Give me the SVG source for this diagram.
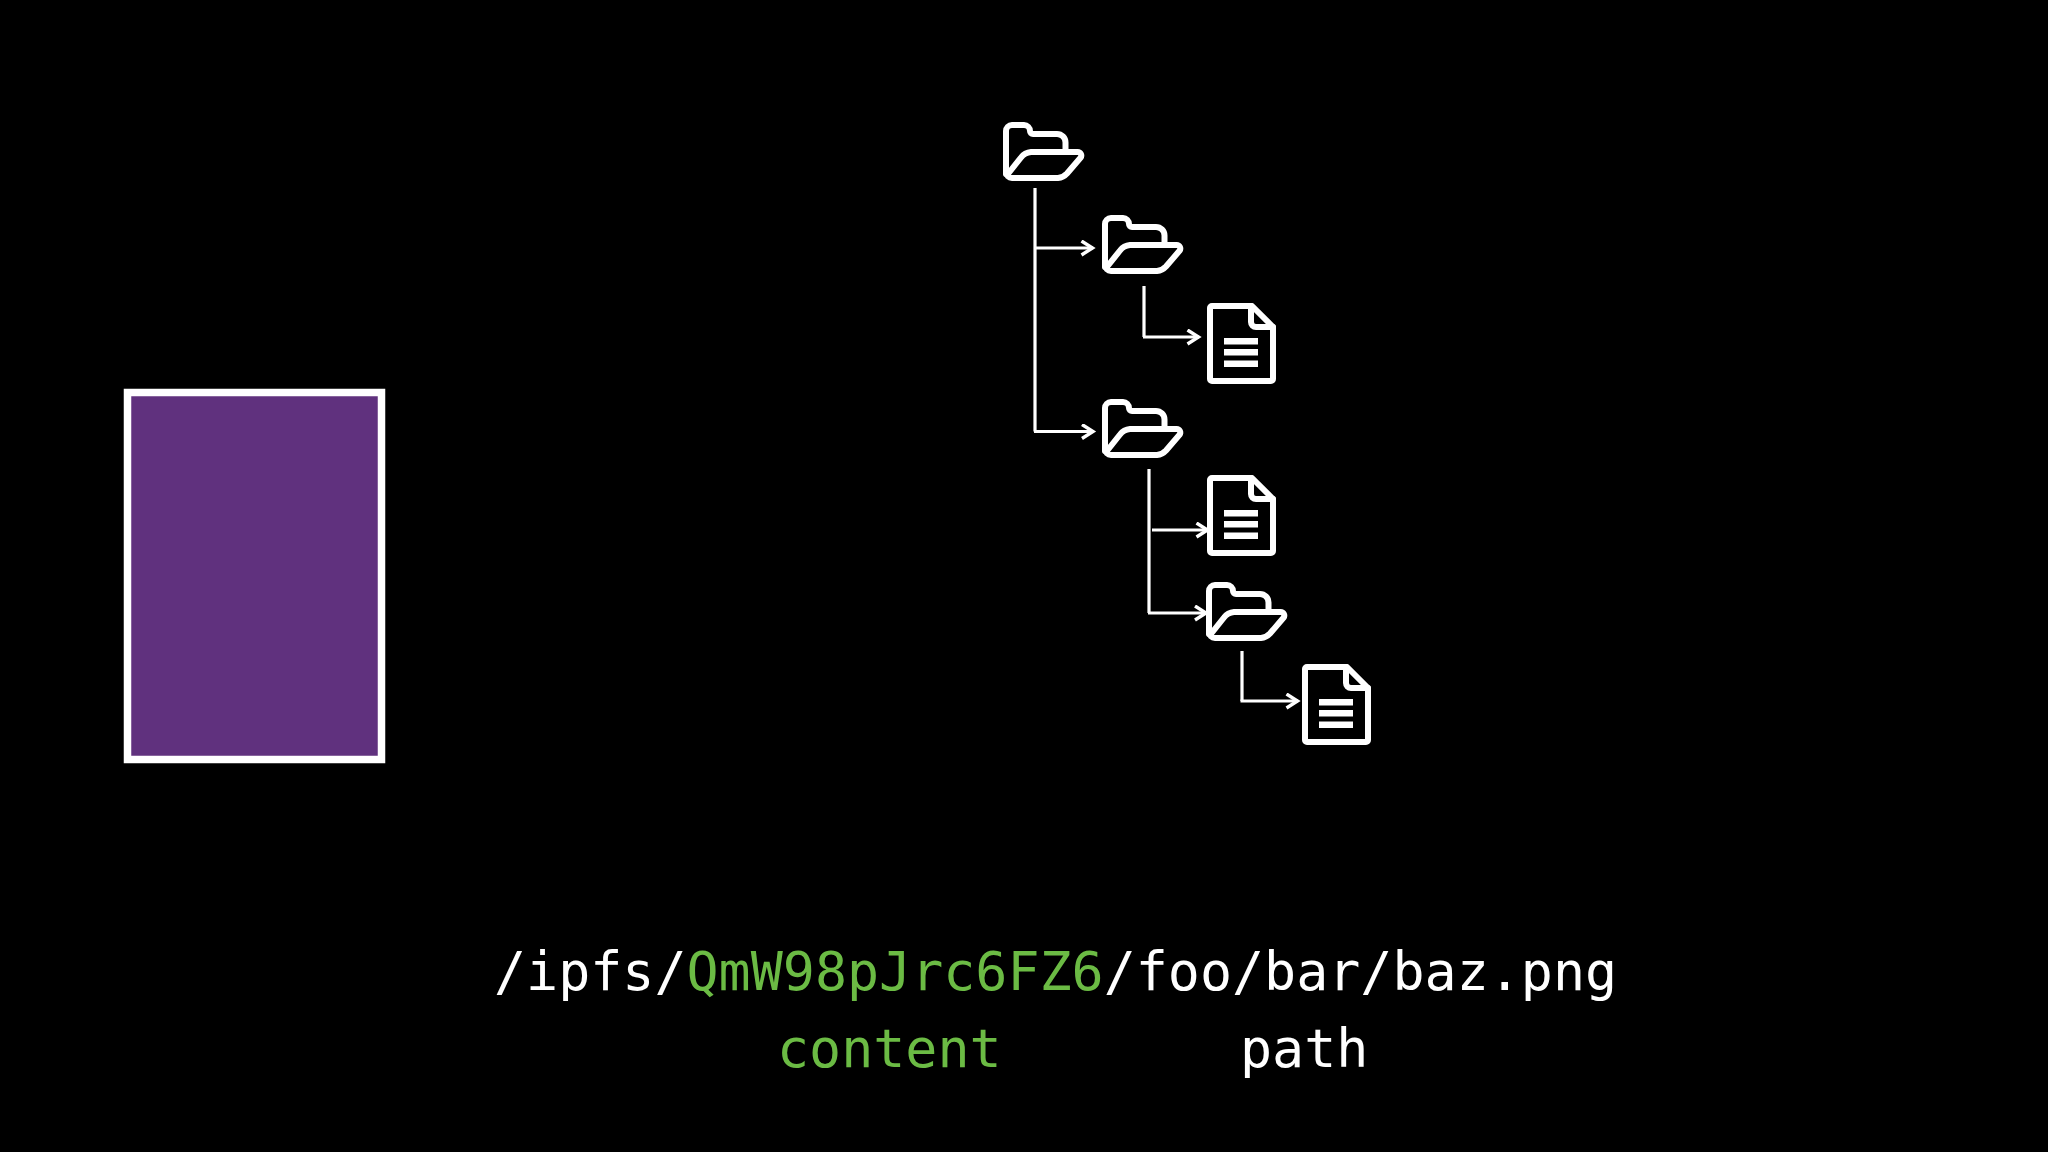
<svg xmlns="http://www.w3.org/2000/svg" width="2048" height="1152" viewBox="0 0 2048 1152">
<style>
.ic{fill:none;stroke:#fff;stroke-width:6;stroke-linejoin:round;stroke-linecap:round}
.c{fill:none;stroke:#fff;stroke-width:3.200}
text{font-family:"DejaVu Sans Mono","Liberation Mono",monospace;font-size:53.3px;fill:#fff}
.g{fill:#6bbb44}
</style>
<defs>
<marker id="a" markerUnits="userSpaceOnUse" markerWidth="20" markerHeight="20" refX="13" refY="8" orient="auto"><path d="M1.500 1L12.500 8L1.500 15" fill="none" stroke="#fff" stroke-width="3.400"/></marker>
<g id="folder" class="ic"><path d="M3 52V9a6 6 0 0 1 6-6H21a6 6 0 0 1 6 6V9a3 3 0 0 0 3 3H54a8.500 8.500 0 0 1 8.500 8.500V30"/><path d="M4.500 52.500L18 35.500a14 14 0 0 1 10-5.500H74.500a3.600 3.600 0 0 1 3 5.800L64 51.500a14 14 0 0 1-9 4.500H9a6 6 0 0 1-6-6"/></g>
<g id="doc"><path class="ic" d="M3 5a2 2 0 0 1 2-2H45L66 24V76a2 2 0 0 1-2 2H5A2 2 0 0 1 3 76Z"/><path class="ic" d="M44 3V19a5 5 0 0 0 5 5H66"/><path fill="#fff" d="M17 35H51V41.500H17ZM17 46H51V52.500H17ZM17 57.500H51V64H17Z"/></g>
</defs>
<rect width="2048" height="1152" fill="#000"/>
<g id="box"><rect x="127.500" y="392.500" width="254" height="367" fill="#60317e" stroke="#fff" stroke-width="7.500"/></g>
<g id="connectors">
<path class="c" d="M1035 188V431.500" />
<path class="c" d="M1035 248H1093" marker-end="url(#a)"/>
<path class="c" d="M1034 431.500H1093.500" marker-end="url(#a)"/>
<path class="c" d="M1144 286V337"/>
<path class="c" d="M1143 337H1199" marker-end="url(#a)"/>
<path class="c" d="M1149 469V613"/>
<path class="c" d="M1152 530H1208" marker-end="url(#a)"/>
<path class="c" d="M1148 613H1206.500" marker-end="url(#a)"/>
<path class="c" d="M1242 651V701"/>
<path class="c" d="M1240.500 701H1298" marker-end="url(#a)"/>
</g>
<g id="folder-root" transform="translate(1003 122)"><use href="#folder"/></g>
<g id="folder-foo" transform="translate(1102 215)"><use href="#folder"/></g>
<g id="doc-1" transform="translate(1207 303)"><use href="#doc"/></g>
<g id="folder-bar" transform="translate(1102 399)"><use href="#folder"/></g>
<g id="doc-2" transform="translate(1207 475)"><use href="#doc"/></g>
<g id="folder-baz" transform="translate(1206 582)"><use href="#folder"/></g>
<g id="doc-3" transform="translate(1302 664)"><use href="#doc"/></g>
<g id="labels">
<text x="494" y="990">/ipfs/<tspan class="g">QmW98pJrc6FZ6</tspan>/foo/bar/baz.png</text>
<text x="777" y="1067" class="g">content</text>
<text x="1240" y="1067">path</text>
</g>
</svg>
